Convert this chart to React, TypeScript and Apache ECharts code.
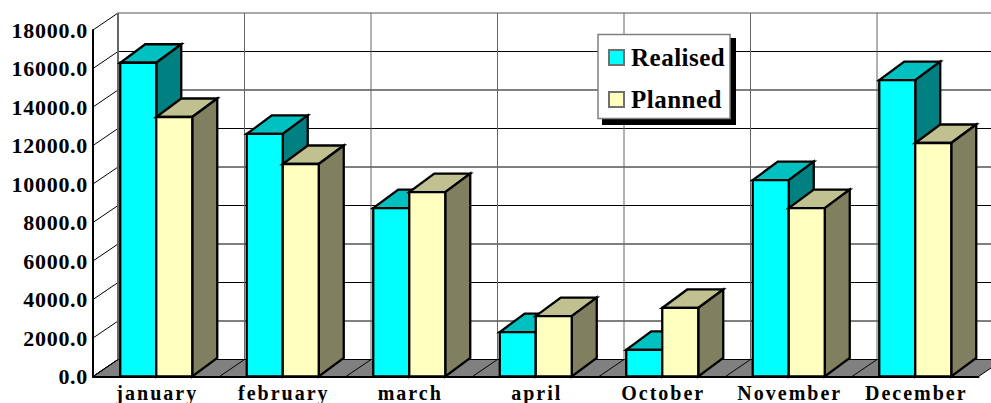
import React, { useEffect, useRef } from "react";
import * as echarts from "echarts";

const categories = ["january", "february", "march", "april", "October", "November", "December"];
const realised = [16300, 12600, 8750, 2310, 1380, 10200, 15400];
const planned = [13480, 11040, 9580, 3140, 3560, 8750, 12130];
const yTicks = [0, 2000, 4000, 6000, 8000, 10000, 12000, 14000, 16000, 18000];

const WALL_DX = 25;
const WALL_DY = -17;
const BAR_DX = 25;
const BAR_DY = -18.5;
const BAR_W = 36;

const CSS = `
.chart3d text[text-anchor="end"] { letter-spacing: 0.7px; }
.chart3d text[text-anchor="middle"] { letter-spacing: 2px; }
.chart3d text[text-anchor="start"] { letter-spacing: 0.5px; }
`;

function barSeries(name: string, values: number[], side: number, front: string, top: string, right: string) {
  return {
    name,
    type: "custom",
    z: 2,
    silent: true,
    itemStyle: { color: front },
    encode: { x: 0, y: 1 },
    data: values.map((v, i) => [i, v]),
    renderItem: (_p: any, api: any) => {
      const c = api.coord([api.value(0), api.value(1)]);
      const b = api.coord([api.value(0), 0]);
      const x0 = side < 0 ? c[0] - BAR_W : c[0];
      const x1 = x0 + BAR_W;
      const yt = c[1];
      const yb = b[1];
      const st = { stroke: "#000", lineWidth: 2.3, lineJoin: "miter" };
      return {
        type: "group",
        children: [
          { type: "polygon", shape: { points: [[x0, yt], [x1, yt], [x1 + BAR_DX, yt + BAR_DY], [x0 + BAR_DX, yt + BAR_DY]] }, style: { fill: top, ...st } },
          { type: "polygon", shape: { points: [[x1, yt], [x1 + BAR_DX, yt + BAR_DY], [x1 + BAR_DX, yb + BAR_DY], [x1, yb]] }, style: { fill: right, ...st } },
          { type: "rect", shape: { x: x0, y: yt, width: BAR_W, height: yb - yt }, style: { fill: front, ...st } },
        ],
      };
    },
  };
}

const App = () => {
  const ref = useRef<HTMLDivElement>(null);
  useEffect(() => {
    document.body.style.margin = "0";
    const chart = echarts.init(ref.current!, undefined, { renderer: "svg" });
    const serif = "'Liberation Serif', serif";
    chart.setOption({
      animation: false,
      backgroundColor: "#fff",
      grid: { left: 93, right: 12.5, top: 30, bottom: 26.5, containLabel: false, outerBoundsMode: "none" },
      xAxis: {
        type: "category",
        data: categories,
        z: 1,
        axisLine: { lineStyle: { color: "#000", width: 2 } },
        axisTick: { show: false },
        axisLabel: { interval: 0, margin: 6, padding: [0, 0, 0, 2], color: "#000", fontFamily: serif, fontWeight: "bold", fontSize: 20 },
      },
      yAxis: {
        type: "value",
        min: 0,
        max: 18000,
        interval: 2000,
        z: 1,
        axisLine: { show: true, lineStyle: { color: "#000", width: 2 } },
        axisTick: { show: false },
        splitLine: { show: false },
        axisLabel: { margin: 5, color: "#000", fontFamily: serif, fontWeight: "bold", fontSize: 22, formatter: (v: number) => v.toFixed(1) },
      },
      legend: {
        data: ["Realised", "Planned"],
        orient: "vertical",
        left: 608,
        top: 45,
        padding: 0,
        z: 20,
        itemWidth: 15,
        itemHeight: 15,
        itemGap: 17,
        selectedMode: false,
        icon: "rect",
        itemStyle: { borderColor: "#707070", borderWidth: 2 },
        textStyle: { color: "#000", fontFamily: serif, fontWeight: "bold", fontSize: 25, padding: [0, 0, 0, 2] },
      },
      graphic: [
        { type: "rect", z: 10, silent: true, shape: { x: 602, y: 38, width: 134, height: 87 }, style: { fill: "#000" } },
        { type: "rect", z: 11, silent: true, shape: { x: 598, y: 34.5, width: 132, height: 84 }, style: { fill: "#fff", stroke: "#808080", lineWidth: 1.5 } },
      ],
      series: [
        {
          type: "custom",
          name: "floor",
          z: 0,
          silent: true,
          encode: { x: 0, y: 1 },
          data: [[0, 0]],
          renderItem: (p: any, api: any) => {
            const b = api.coord([0, 0]);
            const l = p.coordSys.x;
            const r = l + p.coordSys.width;
            return {
              type: "polygon",
              shape: { points: [[l, b[1]], [r, b[1]], [r + WALL_DX, b[1] + WALL_DY], [l + WALL_DX, b[1] + WALL_DY]] },
              style: { fill: "#808080", stroke: "#000", lineWidth: 1 },
            };
          },
        },
        {
          type: "custom",
          name: "gridlines",
          z: 0,
          silent: true,
          encode: { x: 0, y: 1 },
          data: yTicks.map((t) => [0, t]),
          renderItem: (p: any, api: any) => {
            const y = api.coord([0, api.value(1)])[1];
            const l = p.coordSys.x;
            const r = l + p.coordSys.width;
            const top = api.value(1) === 18000;
            return {
              type: "group",
              children: [
                { type: "line", shape: { x1: l, y1: y, x2: l + WALL_DX, y2: y + WALL_DY }, style: { stroke: "#000", lineWidth: 1 } },
                { type: "line", shape: { x1: l + WALL_DX, y1: y + WALL_DY, x2: r + WALL_DX, y2: y + WALL_DY }, style: { stroke: top ? "#555" : "#000", lineWidth: 1 } },
              ],
            };
          },
        },
        {
          type: "custom",
          name: "verticals",
          z: 0,
          silent: true,
          encode: { x: 0, y: 1 },
          data: categories.map((_c, i) => [i, 0]),
          renderItem: (p: any, api: any) => {
            const i = api.value(0);
            const cx = api.coord([i, 0]);
            const band = api.size([1, 0])[0];
            const x = cx[0] - band / 2;
            const yt = p.coordSys.y;
            const yb = cx[1];
            const floorLine = { type: "line", shape: { x1: x, y1: yb, x2: x + WALL_DX, y2: yb + WALL_DY }, style: { stroke: "#000", lineWidth: 1 } };
            return {
              type: "group",
              children: [
                { type: "line", shape: { x1: x + WALL_DX, y1: yt + WALL_DY, x2: x + WALL_DX, y2: yb + WALL_DY }, style: { stroke: "#666", lineWidth: i === 0 ? 2 : 1 } },
                floorLine,
              ],
            };
          },
        },
        barSeries("Realised", realised, -1, "#00FFFF", "#00C0C0", "#008080"),
        barSeries("Planned", planned, 1, "#FFFFC0", "#C0C090", "#808060"),
      ],
    });
    return () => chart.dispose();
  }, []);
  return (
    <>
      <style>{CSS}</style>
      <div ref={ref} className="chart3d" style={{ width: 991, height: 403, overflow: "hidden" }} />
    </>
  );
};

export default App;
